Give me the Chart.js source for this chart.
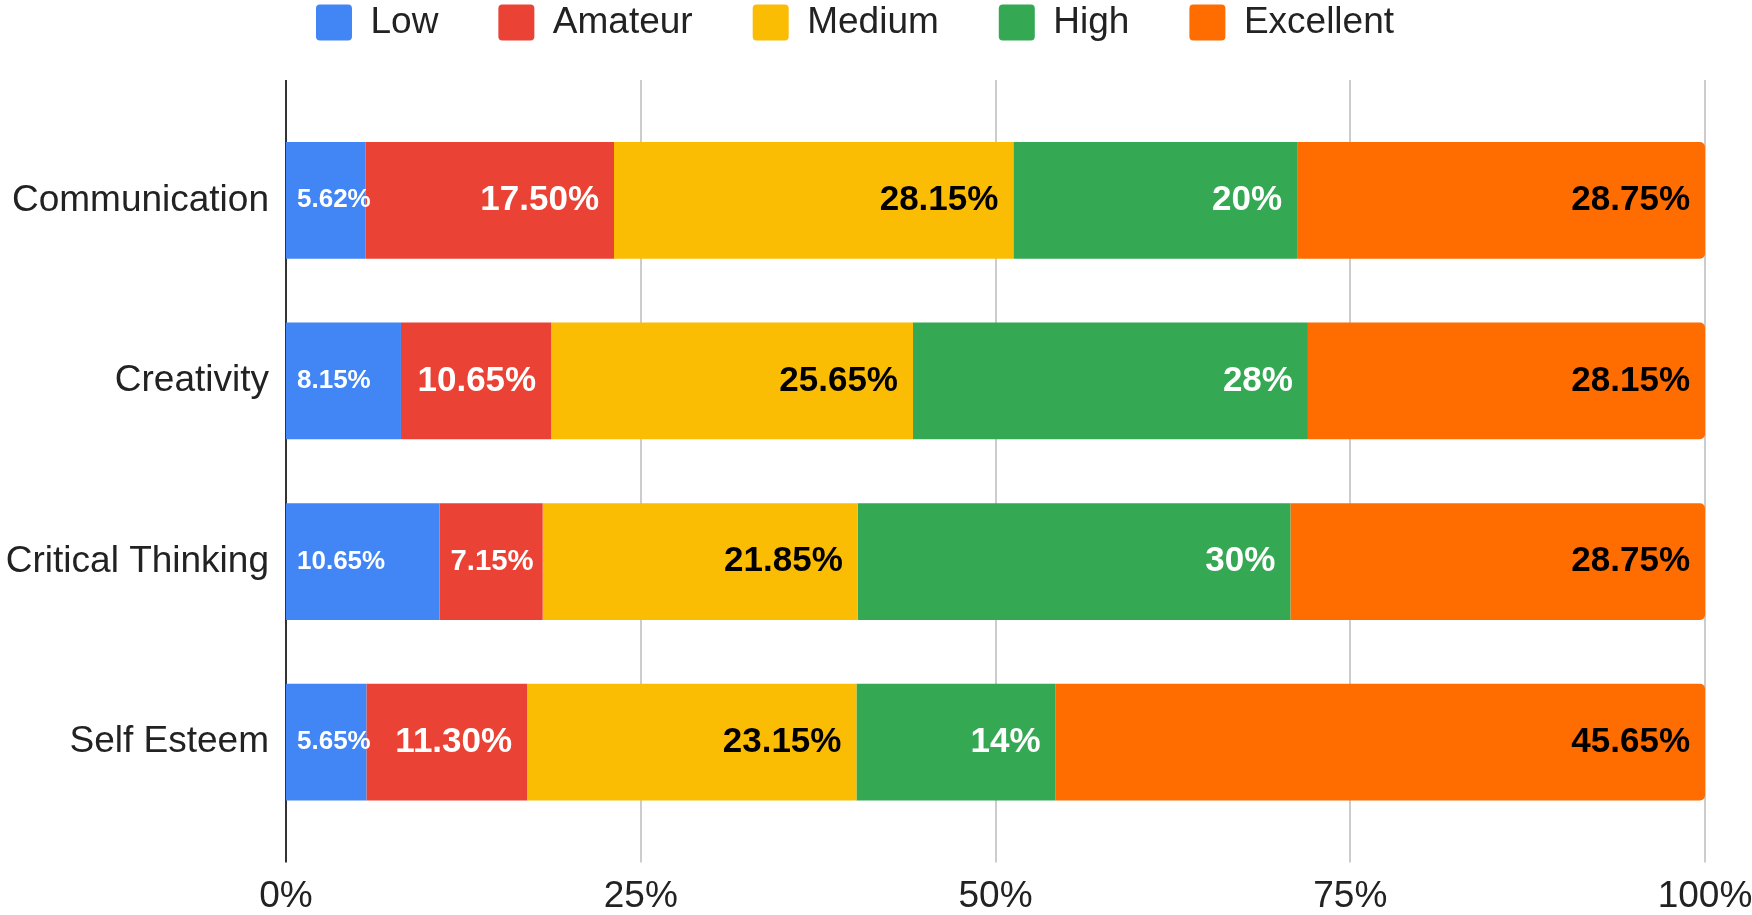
<!DOCTYPE html>
<html>
<head>
<meta charset="utf-8">
<title>Skills levels</title>
<script src="https://cdn.jsdelivr.net/npm/chart.js@4/dist/chart.umd.min.js"></script>
<style>
    html, body { margin: 0; padding: 0; background: #fff; }
    #wrap { width: 1752px; height: 915px; position: relative; }
</style>
</head>
<body>
<div id="wrap"><canvas id="skillsChart"></canvas></div>
<script>
// Values (raw percentages as printed on the bars)
const categories = ['Communication', 'Creativity', 'Critical Thinking', 'Self Esteem'];
const seriesNames = ['Low', 'Amateur', 'Medium', 'High', 'Excellent'];
const lowValues = [5.62, 8.15, 10.65, 5.65];
const amateurValues = [17.50, 10.65, 7.15, 11.30];
const mediumValues = [28.15, 25.65, 21.85, 23.15];
const highValues = [20, 28, 30, 14];
const excellentValues = [28.75, 28.15, 28.75, 45.65];
const axisTicks = [0, 25, 50, 75, 100];

const seriesColors = ['#4285F4', '#EA4335', '#FBBC04', '#34A853', '#FF6D01'];
const labelColors = ['#fff', '#fff', '#000', '#fff', '#000'];
const FONT = '"Liberation Sans", Arial, sans-serif';

const allSeries = [lowValues, amateurValues, mediumValues, highValues, excellentValues];

// 100% stacked: each row is scaled so it fills the axis
const rowTotals = categories.map((c, i) => allSeries.reduce((s, arr) => s + arr[i], 0));

function formatPct(v) {
    return (Number.isInteger(v) ? v : v.toFixed(2)) + '%';
}

// legend needs extra room underneath it
const legendSpacer = {
    id: 'legendSpacer',
    beforeInit(chart) {
        const origFit = chart.legend.fit;
        chart.legend.fit = function() {
            origFit.bind(chart.legend)();
            this.height = 166;
        };
    }
};

// gridlines that run a little past the plot area, like the original
const longGrid = {
    id: 'longGrid',
    beforeDatasetsDraw(chart) {
        const {ctx, chartArea, scales} = chart;
        const top = chartArea.top - 30;
        const bottom = chartArea.bottom + 30;
        ctx.save();
        axisTicks.forEach(t => {
            const x = Math.round(scales.x.getPixelForValue(t));
            ctx.beginPath();
            ctx.lineWidth = 2;
            ctx.strokeStyle = t === 0 ? '#333333' : '#cccccc';
            ctx.moveTo(x, top);
            ctx.lineTo(x, bottom);
            ctx.stroke();
        });
        ctx.restore();
    }
};

// value labels inside the bars
const barLabels = {
    id: 'barLabels',
    afterDatasetsDraw(chart) {
        const ctx = chart.ctx;
        ctx.save();
        ctx.textBaseline = 'middle';
        chart.data.datasets.forEach((ds, di) => {
            const meta = chart.getDatasetMeta(di);
            meta.data.forEach((bar, i) => {
                const p = bar.getProps(['x', 'y', 'base'], true);
                const text = formatPct(allSeries[di][i]);
                const barW = p.x - p.base;
                ctx.fillStyle = labelColors[di];
                if (di === 0) {
                    ctx.font = 'bold 26px ' + FONT;
                    ctx.textAlign = 'left';
                    ctx.fillText(text, p.base + 11, p.y);
                    return;
                }
                ctx.font = 'bold 35px ' + FONT;
                const w = ctx.measureText(text).width;
                if (w > barW - 30) {
                    // too tight: shrink and start from the left edge
                    const size = Math.max(20, 35 * (barW - 20) / w);
                    ctx.font = 'bold ' + size.toFixed(1) + 'px ' + FONT;
                    ctx.textAlign = 'left';
                    ctx.fillText(text, p.base + 11, p.y);
                } else {
                    ctx.textAlign = 'right';
                    ctx.fillText(text, p.x - 15, p.y);
                }
            });
        });
        ctx.restore();
    }
};

const datasets = seriesNames.map((name, di) => ({
    label: name,
    data: allSeries[di].map((v, i) => v / rowTotals[i] * 100),
    backgroundColor: seriesColors[di],
    borderWidth: 0,
    borderRadius: di === seriesNames.length - 1 ? 5 : 0,
    borderSkipped: 'start',
    barPercentage: 0.646,
    categoryPercentage: 1.0
}));

const ctx = document.getElementById('skillsChart').getContext('2d');
const chart = new Chart(ctx, {
    type: 'bar',
    data: {
        labels: categories,
        datasets: datasets
    },
    options: {
        indexAxis: 'y',
        responsive: true,
        maintainAspectRatio: false,
        animation: false,
        layout: {
            padding: { left: 5, right: 47, top: -56, bottom: 0 }
        },
        plugins: {
            tooltip: { enabled: false },
            legend: {
                position: 'top',
                labels: {
                    boxWidth: 36,
                    boxHeight: 36,
                    padding: 60,
                    useBorderRadius: true,
                    borderRadius: 4,
                    color: '#222',
                    font: { family: FONT, size: 37 }
                }
            }
        },
        scales: {
            x: {
                stacked: true,
                min: 0,
                max: 100,
                afterBuildTicks: axis => {
                    axis.ticks = axisTicks.map(v => ({ value: v }));
                },
                afterFit: scale => {
                    scale.height = 82.5;
                    // let the layout padding decide the side margins
                    scale.paddingLeft = 0;
                    scale.paddingRight = 0;
                },
                grid: { display: false, drawTicks: false },
                border: { display: false },
                ticks: {
                    padding: 42,
                    maxRotation: 0,
                    color: '#222',
                    font: { family: FONT, size: 37 },
                    callback: v => v + '%'
                }
            },
            y: {
                stacked: true,
                afterFit: scale => { scale.width = 281; },
                grid: { display: false, drawTicks: false },
                border: { display: false },
                ticks: {
                    padding: 17,
                    color: '#222',
                    font: { family: FONT, size: 37 }
                }
            }
        }
    },
    plugins: [legendSpacer, longGrid, barLabels]
});
</script>
</body>
</html>
